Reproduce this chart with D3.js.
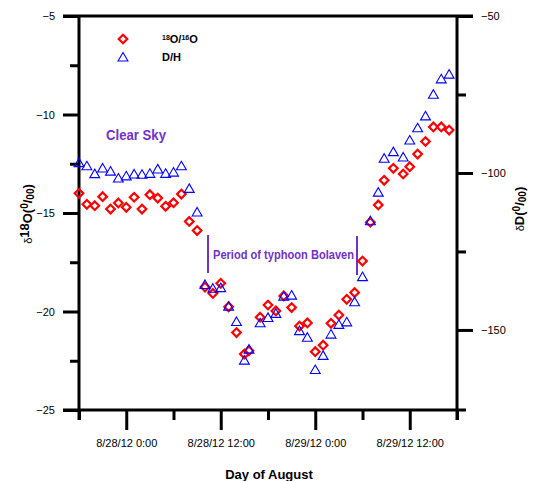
<!DOCTYPE html>
<html><head><meta charset="utf-8">
<script src="https://cdn.jsdelivr.net/npm/d3@7"></script>
<style>body{margin:0;background:#fff}svg{display:block}text{font-family:"Liberation Sans",Arial,sans-serif}</style>
</head><body>
<script>
const times = ["2012-08-27T18:00","2012-08-27T19:00","2012-08-27T20:00","2012-08-27T21:00","2012-08-27T22:00","2012-08-27T23:00",
"2012-08-28T00:00","2012-08-28T01:00","2012-08-28T02:00","2012-08-28T03:00","2012-08-28T04:00","2012-08-28T05:00",
"2012-08-28T06:00","2012-08-28T07:00","2012-08-28T08:00","2012-08-28T09:00","2012-08-28T10:00","2012-08-28T11:00",
"2012-08-28T12:00","2012-08-28T13:00","2012-08-28T14:00","2012-08-28T15:00","2012-08-28T15:35","2012-08-28T17:00",
"2012-08-28T18:00","2012-08-28T19:00","2012-08-28T20:00","2012-08-28T21:00","2012-08-28T22:00","2012-08-28T23:00",
"2012-08-29T00:00","2012-08-29T01:00","2012-08-29T02:00","2012-08-29T03:00","2012-08-29T04:00","2012-08-29T05:00",
"2012-08-29T06:00","2012-08-29T07:00","2012-08-29T08:00","2012-08-29T08:45","2012-08-29T09:55","2012-08-29T11:10",
"2012-08-29T12:00","2012-08-29T13:00","2012-08-29T14:00","2012-08-29T15:00","2012-08-29T16:00","2012-08-29T17:00"];
const d18O = [-14.00,-14.56,-14.63,-14.17,-14.80,-14.49,-14.71,-14.20,-14.80,-14.07,-14.24,-14.66,
-14.48,-14.04,-15.43,-15.89,-18.76,-19.08,-18.57,-19.76,-21.07,-22.16,-21.99,-20.29,
-19.67,-19.97,-19.21,-19.80,-20.74,-20.58,-22.04,-21.71,-20.60,-20.18,-19.38,-19.04,
-17.44,-15.47,-14.59,-13.34,-12.73,-13.02,-12.65,-12.01,-11.37,-10.63,-10.63,-10.79];
const dD = [-96.7,-97.7,-100.2,-98.4,-99.4,-101.6,-100.9,-100.3,-100.4,-100.1,-98.7,-100.1,
-99.7,-97.7,-104.9,-112.4,-135.5,-136.7,-136.5,-142.4,-147.3,-159.6,-156.1,-147.7,
-146.0,-144.7,-139.2,-138.9,-150.2,-152.3,-162.6,-158.1,-151.3,-148.2,-147.4,-141.0,
-133.0,-115.2,-106.1,-95.3,-93.2,-94.9,-89.5,-85.6,-81.8,-74.9,-70.0,-68.5];
const leftTicks = [-25,-20,-15,-10,-5];
const leftMinor = [-22.5,-17.5,-12.5,-7.5];
const rightTicks = [-150,-100,-50];
const rightMinor = [-125,-75];
const xMajor = ["2012-08-28T00:00","2012-08-28T12:00","2012-08-29T00:00","2012-08-29T12:00"];
const xMinor = ["2012-08-27T18:00","2012-08-28T06:00","2012-08-28T18:00","2012-08-29T06:00","2012-08-29T18:00"];

const W=534,H=481;
const parse=d3.timeParse("%Y-%m-%dT%H:%M");
const fmt=d3.timeFormat("%-m/%d/%y %-H:%M");
const svg=d3.select("body").append("svg").attr("width",W).attr("height",H);
const x=d3.scaleTime().domain([parse("2012-08-27T18:00"),parse("2012-08-29T18:00")]).range([79,457]);
const yL=d3.scaleLinear().domain([-25,-5]).range([410,16]);
const yR=d3.scaleLinear().domain([-175.5,-50]).range([410,16]);
const purple="#7232c8";

// frame lines
svg.append("line").attr("x1",63).attr("x2",473).attr("y1",yL(-5)).attr("y2",yL(-5)).attr("stroke","#000").attr("stroke-width",3);
svg.append("line").attr("x1",63).attr("x2",466).attr("y1",yL(-25)).attr("y2",yL(-25)).attr("stroke","#000").attr("stroke-width",3);

// left axis
const gl=svg.append("g").attr("transform","translate(79,0)");
gl.call(d3.axisLeft(yL).tickValues(leftTicks).tickSize(16).tickPadding(8).tickFormat(d3.format("d")));
gl.append("g").call(d3.axisLeft(yL).tickValues(leftMinor).tickSize(9).tickFormat(""));
gl.selectAll(".domain").remove();
gl.append("line").attr("y1",16).attr("y2",420).attr("stroke","#000").attr("stroke-width",3);
// right axis
const gr=svg.append("g").attr("transform","translate(457,0)");
gr.call(d3.axisRight(yR).tickValues(rightTicks).tickSize(16).tickPadding(8).tickFormat(d3.format("d")));
gr.append("g").call(d3.axisRight(yR).tickValues(rightMinor).tickSize(9).tickFormat(""));
gr.selectAll(".domain").remove();
gr.append("line").attr("y1",16).attr("y2",420).attr("stroke","#000").attr("stroke-width",3);
// bottom axis
const gb=svg.append("g").attr("transform","translate(0,410)");
gb.call(d3.axisBottom(x).tickValues(xMajor.map(parse)).tickSize(20).tickPadding(9).tickFormat(fmt));
gb.append("g").call(d3.axisBottom(x).tickValues(xMinor.map(parse)).tickSize(10).tickFormat(""));
gb.selectAll(".domain").remove();

svg.selectAll(".tick line").attr("stroke","#000").attr("stroke-width",3);
svg.selectAll(".tick text").attr("fill","#000").style("font-size","11px").style("font-family","'Liberation Sans',Arial,sans-serif");

// annotations
svg.append("text").attr("x",106).attr("y",140).attr("fill",purple).style("font-weight","bold").style("font-size","14px")
  .attr("textLength",60).attr("lengthAdjust","spacingAndGlyphs").text("Clear Sky");
svg.append("text").attr("x",213).attr("y",259).attr("fill",purple).style("font-weight","bold").style("font-size","12.5px")
  .attr("textLength",141).attr("lengthAdjust","spacingAndGlyphs").text("Period of typhoon Bolaven");
svg.append("line").attr("x1",208).attr("x2",208).attr("y1",235).attr("y2",273).attr("stroke",purple).attr("stroke-width",2);
svg.append("line").attr("x1",357).attr("x2",357).attr("y1",236).attr("y2",275).attr("stroke",purple).attr("stroke-width",2);

// data
const data=times.map((t,i)=>({t:parse(t),o:d18O[i],d:dD[i]}));
const tri=(cx,cy,s)=>`M${cx},${cy-s*0.5}L${cx+s*0.55},${cy+s*0.45}L${cx-s*0.55},${cy+s*0.45}Z`;
const dia=(cx,cy,s)=>`M${cx},${cy-s}L${cx+s},${cy}L${cx},${cy+s}L${cx-s},${cy}Z`;
svg.append("g").selectAll("path").data(data).join("path")
  .attr("d",d=>dia(x(d.t),yL(d.o),4.3)).attr("fill","none").attr("stroke","#f00").attr("stroke-width",2.2);
svg.append("g").selectAll("path").data(data).join("path")
  .attr("d",d=>tri(x(d.t),yR(d.d),9)).attr("fill","none").attr("stroke","#00f").attr("stroke-width",1.1);

// legend
svg.append("path").attr("d",dia(123,39,4.3)).attr("fill","none").attr("stroke","#f00").attr("stroke-width",2.2);
svg.append("path").attr("d",tri(123,57,9)).attr("fill","none").attr("stroke","#00f").attr("stroke-width",1.1);
const l1=svg.append("text").attr("x",162).attr("y",43).style("font-weight","bold").style("font-size","11px");
l1.append("tspan").text("18").style("font-size","7px").attr("dy",-3);
l1.append("tspan").text("O/").attr("dy",3);
l1.append("tspan").text("16").style("font-size","7px").attr("dy",-3);
l1.append("tspan").text("O").attr("dy",3);
svg.append("text").attr("x",162).attr("y",61).style("font-weight","bold").style("font-size","11px").text("D/H");

// axis titles
svg.append("text").attr("x",269).attr("y",479).attr("text-anchor","middle").style("font-weight","bold").style("font-size","13px").text("Day of August");
const yl=svg.append("text").attr("transform","translate(32,214) rotate(-90)").attr("text-anchor","middle").style("font-size","13px");
yl.append("tspan").text("δ").style("font-size","11px");
yl.append("tspan").text("18").style("font-weight","bold").attr("dy",-3);
yl.append("tspan").text("O(").style("font-weight","bold").attr("dy",3);
yl.append("tspan").text("0").style("font-weight","bold").style("font-size","10px").attr("dy",-4);
yl.append("tspan").text("/").style("font-weight","bold").attr("dy",4);
yl.append("tspan").text("00").style("font-weight","bold").style("font-size","10px").attr("dy",2);
yl.append("tspan").text(")").style("font-weight","bold").attr("dy",-2);
const yr=svg.append("text").attr("transform","translate(524,209) rotate(-90)").attr("text-anchor","middle").style("font-size","13px");
yr.append("tspan").text("δ").style("font-size","11px");
yr.append("tspan").text("D(").style("font-weight","bold");
yr.append("tspan").text("0").style("font-weight","bold").style("font-size","10px").attr("dy",-4);
yr.append("tspan").text("/").style("font-weight","bold").attr("dy",4);
yr.append("tspan").text("00").style("font-weight","bold").style("font-size","10px").attr("dy",2);
yr.append("tspan").text(")").style("font-weight","bold").attr("dy",-2);
</script>
</body></html>
